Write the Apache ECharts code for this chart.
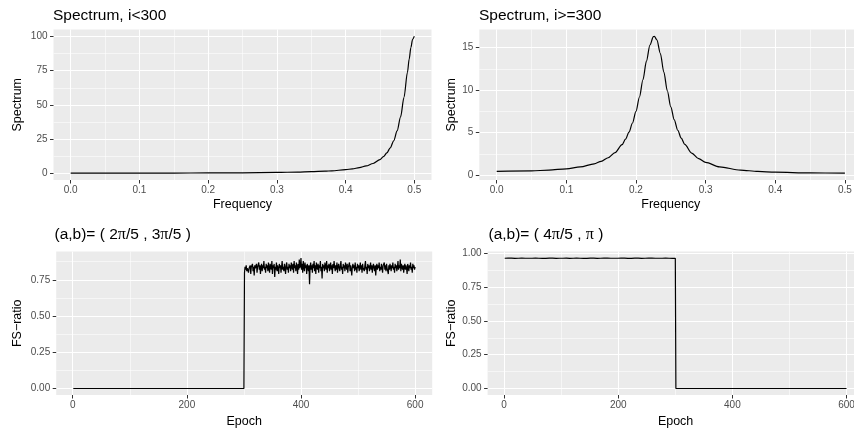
<!DOCTYPE html>
<html>
<head>
<meta charset="utf-8">
<script src="https://cdn.jsdelivr.net/npm/echarts@6/dist/echarts.min.js"></script>
<style>html,body{margin:0;padding:0;background:#fff}#c{width:854px;height:428px}</style>
</head>
<body>
<div id="c"></div>
<script>
// ---------- data ----------
const spec1Freq = [0, 0.05, 0.1, 0.15, 0.2, 0.25, 0.3, 0.33, 0.35, 0.37, 0.38, 0.4, 0.41, 0.42, 0.43, 0.44, 0.45, 0.455, 0.46, 0.465, 0.47, 0.475, 0.48, 0.485, 0.49, 0.4925, 0.495, 0.4975, 0.5];
const spec1Val  = [0.277, 0.284, 0.306, 0.349, 0.423, 0.552, 0.798, 1.061, 1.330, 1.731, 2.009, 2.827, 3.446, 4.298, 5.515, 7.331, 10.19, 12.27, 15.02, 18.75, 23.88, 31.09, 41.32, 55.59, 73.80, 83.33, 91.80, 97.85, 100.0];

const spec2Freq = [0, 0.05, 0.075, 0.1, 0.12, 0.14, 0.15, 0.16, 0.17, 0.18, 0.185, 0.19, 0.195, 0.2, 0.205, 0.21, 0.215, 0.22, 0.225, 0.2264, 0.23, 0.235, 0.24, 0.245, 0.25, 0.255, 0.26, 0.265, 0.27, 0.28, 0.29, 0.3, 0.32, 0.35, 0.375, 0.4, 0.45, 0.5];
const spec2Val  = [0.474, 0.532, 0.618, 0.773, 0.988, 1.360, 1.650, 2.067, 2.673, 3.603, 4.254, 5.080, 6.140, 7.500, 9.190, 11.21, 13.39, 15.28, 16.27, 16.30, 15.88, 14.29, 12.11, 9.920, 8.030, 6.500, 5.290, 4.360, 3.635, 2.614, 1.960, 1.524, 1.002, 0.625, 0.467, 0.376, 0.287, 0.263];

// FS-ratio, (a,b) = (2pi/5, 3pi/5): zero for epochs 1..300, then values for epochs 301..600
const fsAFlatEpochs = [1, 300];
const fsAFlatVals = [0, 0];
const fsAFirstNoisyEpoch = 301;
const fsANoisy = [
0.80,0.84,0.82,0.85,0.81,0.83,0.84,0.80,0.83,0.82,0.85,0.79,0.84,0.83,0.86,0.81,0.84,0.78,0.85,0.83,
0.82,0.86,0.80,0.84,0.83,0.87,0.82,0.85,0.79,0.84,0.86,0.81,0.85,0.83,0.88,0.82,0.84,0.80,0.86,0.83,
0.85,0.81,0.87,0.83,0.80,0.86,0.84,0.82,0.88,0.79,0.85,0.83,0.86,0.77,0.84,0.82,0.87,0.81,0.85,0.83,
0.79,0.86,0.83,0.85,0.80,0.84,0.88,0.82,0.84,0.81,0.86,0.83,0.79,0.85,0.87,0.82,0.84,0.80,0.86,0.83,
0.85,0.81,0.87,0.84,0.82,0.86,0.80,0.88,0.83,0.85,0.81,0.87,0.84,0.79,0.86,0.82,0.89,0.83,0.85,0.90,
0.82,0.86,0.80,0.88,0.84,0.81,0.87,0.83,0.85,0.79,0.86,0.84,0.81,0.85,0.72,0.84,0.87,0.82,0.85,0.80,
0.86,0.83,0.88,0.81,0.85,0.79,0.87,0.84,0.82,0.86,0.80,0.85,0.83,0.88,0.81,0.84,0.76,0.86,0.83,0.85,
0.81,0.87,0.84,0.82,0.88,0.80,0.85,0.83,0.86,0.81,0.84,0.87,0.82,0.85,0.79,0.86,0.83,0.88,0.84,0.81,
0.85,0.82,0.87,0.80,0.84,0.86,0.83,0.81,0.85,0.88,0.82,0.84,0.79,0.86,0.83,0.85,0.81,0.87,0.84,0.82,
0.86,0.80,0.84,0.83,0.87,0.81,0.85,0.82,0.78,0.84,0.86,0.83,0.85,0.81,0.87,0.82,0.84,0.80,0.86,0.83,
0.85,0.81,0.84,0.87,0.82,0.85,0.80,0.86,0.83,0.84,0.81,0.85,0.88,0.82,0.84,0.79,0.86,0.83,0.85,0.81,
0.84,0.87,0.82,0.85,0.80,0.84,0.86,0.83,0.81,0.85,0.78,0.84,0.86,0.82,0.85,0.83,0.87,0.81,0.84,0.82,
0.86,0.83,0.80,0.85,0.84,0.87,0.82,0.85,0.81,0.86,0.83,0.84,0.79,0.85,0.82,0.86,0.84,0.81,0.85,0.83,
0.87,0.82,0.84,0.80,0.86,0.83,0.85,0.81,0.84,0.88,0.82,0.85,0.83,0.89,0.81,0.86,0.84,0.82,0.85,0.80,
0.84,0.86,0.82,0.85,0.83,0.79,0.86,0.84,0.81,0.85,0.83,0.87,0.82,0.84,0.80,0.86,0.83,0.85,0.82,0.84
];

// FS-ratio, (a,b) = (4pi/5, pi): values every 3 epochs from epoch 1, then drop to zero after 300
const fsBFirstEpoch = 1;
const fsBStep = 3;
const fsBHigh = [
0.965,0.964,0.966,0.965,0.966,0.965,0.964,0.966,0.965,0.965,
0.966,0.964,0.965,0.966,0.965,0.966,0.965,0.964,0.966,0.965,
0.965,0.966,0.964,0.966,0.964,0.965,0.966,0.965,0.966,0.965,
0.964,0.966,0.965,0.966,0.965,0.964,0.966,0.965,0.964,0.966,
0.965,0.964,0.966,0.965,0.965,0.966,0.964,0.966,0.964,0.965,
0.966,0.965,0.966,0.965,0.964,0.966,0.965,0.965,0.966,0.964,
0.966,0.964,0.965,0.966,0.965,0.966,0.965,0.964,0.966,0.965,
0.966,0.965,0.964,0.966,0.964,0.965,0.966,0.965,0.966,0.965,
0.964,0.966,0.965,0.965,0.966,0.964,0.966,0.964,0.965,0.966,
0.965,0.966,0.965,0.964,0.966,0.965,0.965,0.966,0.964,0.965
];
const fsBTailEpochs = [300, 301, 600];
const fsBTailVals = [0.965, 0, 0];

// tick labels
const freqTicks = [0, 0.1, 0.2, 0.3, 0.4, 0.5];
const freqMinor = [0.05, 0.15, 0.25, 0.35, 0.45];
const epochTicks = [0, 200, 400, 600];
const epochMinor = [100, 300, 500];
const spec1Ticks = [0, 25, 50, 75, 100];
const spec1Minor = [12.5, 37.5, 62.5, 87.5];
const spec2Ticks = [0, 5, 10, 15];
const spec2Minor = [2.5, 7.5, 12.5];
const fsATicks = [0, 0.25, 0.5, 0.75];
const fsAMinor = [0.125, 0.375, 0.625, 0.875];
const fsBTicks = [0, 0.25, 0.5, 0.75, 1];
const fsBMinor = [0.125, 0.375, 0.625, 0.875];

// ---------- build ----------
const F = 'Liberation Sans, Arial, Helvetica, sans-serif';
const zip = (xs, ys) => xs.map((x, i) => [x, ys[i]]);

const s1 = zip(spec1Freq, spec1Val);
const s2 = zip(spec2Freq, spec2Val);
const fA = zip(fsAFlatEpochs, fsAFlatVals).concat(fsANoisy.map((v, i) => [fsAFirstNoisyEpoch + i, v]));
const fB = fsBHigh.map((v, i) => [fsBFirstEpoch + i * fsBStep, v]).concat(zip(fsBTailEpochs, fsBTailVals));

function ext(vals) {
  const mn = Math.min(...vals), mx = Math.max(...vals), r = mx - mn;
  return [mn - 0.05 * r, mx + 0.05 * r];
}

const grids = [
  {left: 53.5, top: 29.5, width: 378, height: 150.5},
  {left: 479.3, top: 29.5, width: 383, height: 150.5},
  {left: 56.2, top: 251.6, width: 376, height: 143.4},
  {left: 487.6, top: 251.6, width: 376, height: 143.4}
];

const panels = [
  {x: spec1Freq, y: spec1Val, xt: freqTicks, xm: freqMinor, yt: spec1Ticks, ym: spec1Minor, xf: v => v.toFixed(1), yf: v => String(v), xn: 'Frequency', yn: 'Spectrum', yGap: 29, xGap: 18, data: s1},
  {x: spec2Freq, y: spec2Val, xt: freqTicks, xm: freqMinor, yt: spec2Ticks, ym: spec2Minor, xf: v => v.toFixed(1), yf: v => String(v), xn: 'Frequency', yn: 'Spectrum', yGap: 21, xGap: 18, data: s2},
  {x: fA.map(p => p[0]), y: fA.map(p => p[1]), xt: epochTicks, xm: epochMinor, yt: fsATicks, ym: fsAMinor, xf: v => String(v), yf: v => v.toFixed(2), xn: 'Epoch', yn: 'FS\u2212ratio', yGap: 32, xGap: 20.5, data: fA},
  {x: fB.map(p => p[0]), y: fB.map(p => p[1]), xt: epochTicks, xm: epochMinor, yt: fsBTicks, ym: fsBMinor, xf: v => String(v), yf: v => v.toFixed(2), xn: 'Epoch', yn: 'FS\u2212ratio', yGap: 29.5, xGap: 20.5, data: fB}
];

const xAxis = [], yAxis = [], series = [];
panels.forEach((p, i) => {
  const [xmin, xmax] = ext(p.x);
  const [ymin, ymax] = ext(p.y);
  xAxis.push({
    type: 'value', gridIndex: i, min: xmin, max: xmax, position: 'bottom',
    name: p.xn, nameLocation: 'middle', nameGap: p.xGap,
    nameTextStyle: {color: '#000', fontSize: 12.5, fontFamily: F},
    axisLine: {show: false, onZero: false},
    axisTick: {show: true, customValues: p.xt, length: 3.5, lineStyle: {color: '#333333', width: 1}},
    axisLabel: {customValues: p.xt, formatter: p.xf, color: '#4D4D4D', fontSize: 10, margin: 5, fontFamily: F},
    splitLine: {show: true, lineStyle: {color: '#FFFFFF', width: 1.1}}
  });
  xAxis.push({
    type: 'value', gridIndex: i, min: xmin, max: xmax, position: 'top',
    axisLine: {show: false, onZero: false},
    axisTick: {show: false, customValues: p.xm},
    axisLabel: {show: false, customValues: p.xm},
    splitLine: {show: true, lineStyle: {color: '#FFFFFF', width: 0.55}}
  });
  yAxis.push({
    type: 'value', gridIndex: i, min: ymin, max: ymax, position: 'left',
    name: p.yn, nameLocation: 'middle', nameGap: p.yGap, nameRotate: 90,
    nameTextStyle: {color: '#000', fontSize: 12.5, fontFamily: F},
    axisLine: {show: false, onZero: false},
    axisTick: {show: true, customValues: p.yt, length: 3.5, lineStyle: {color: '#333333', width: 1}},
    axisLabel: {customValues: p.yt, formatter: p.yf, color: '#4D4D4D', fontSize: 10, margin: 6, fontFamily: F},
    splitLine: {show: true, lineStyle: {color: '#FFFFFF', width: 1.1}}
  });
  yAxis.push({
    type: 'value', gridIndex: i, min: ymin, max: ymax, position: 'right',
    axisLine: {show: false, onZero: false},
    axisTick: {show: false, customValues: p.ym},
    axisLabel: {show: false, customValues: p.ym},
    splitLine: {show: true, lineStyle: {color: '#FFFFFF', width: 0.55}}
  });
  series.push({
    type: 'line', xAxisIndex: 2 * i, yAxisIndex: 2 * i, data: p.data,
    showSymbol: false, symbol: 'none', smooth: i < 2 ? 0.3 : false,
    smoothMonotone: i < 2 ? 'x' : undefined,
    lineStyle: {color: '#000', width: 1.2}, itemStyle: {color: '#000'},
    animation: false, silent: true, z: 5
  });
});

const titleStyle = {color: '#000', fontSize: 15.5, fontWeight: 'normal', fontFamily: F,
  rich: {p: {fontFamily: 'Liberation Serif, DejaVu Serif, serif', fontSize: 16, color: '#000'}}};

const option = {
  animation: false,
  backgroundColor: '#FFFFFF',
  title: [
    {text: 'Spectrum, i<300', left: 53, top: 8, textStyle: titleStyle, padding: 0},
    {text: 'Spectrum, i>=300', left: 479, top: 8, textStyle: titleStyle, padding: 0},
    {text: '(a,b)= ( 2{p|π}/5 , 3{p|π}/5 )', left: 54.5, top: 226.5, textStyle: titleStyle, padding: 0},
    {text: '(a,b)= ( 4{p|π}/5 , {p|π} )', left: 488.5, top: 226.5, textStyle: titleStyle, padding: 0}
  ],
  grid: grids.map(g => Object.assign({backgroundColor: '#EBEBEB', show: true, borderWidth: 0, containLabel: false, outerBoundsMode: 'none'}, g)),
  xAxis: xAxis,
  yAxis: yAxis,
  series: series
};

const chart = echarts.init(document.getElementById('c'), null, {renderer: 'canvas'});
chart.setOption(option);
</script>
</body>
</html>
